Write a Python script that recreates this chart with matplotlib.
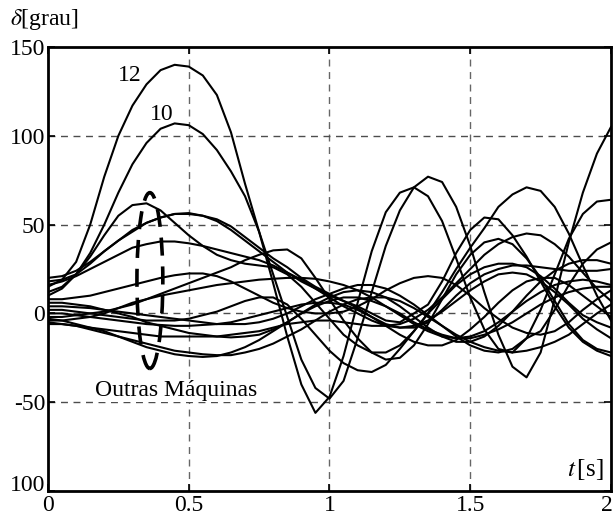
import numpy as np
import matplotlib
matplotlib.use("Agg")
import matplotlib.pyplot as plt
from matplotlib.patches import Ellipse
from matplotlib.transforms import ScaledTranslation

plt.rcParams['font.family'] = ['Liberation Serif', 'DejaVu Serif']
plt.rcParams['mathtext.fontset'] = 'stix'

# time samples every 0.05 s
t = np.arange(41) * 0.05

# machine angles [grau]
m12 = [15, 19, 29, 50, 77, 100, 117, 129, 137, 140, 139, 134, 123, 102, 73, 46, 17, -13, -40, -56,
       -47, -24, 6, 35, 57, 68, 71, 66, 52, 31, 9, -9, -20, -22, -14, 2, 22, 42, 56, 63, 64]
m10 = [12, 15, 22, 34, 50, 68, 84, 96, 104, 107, 106, 101, 92, 80, 66, 46, 22, -2, -26, -42,
       -48, -38, -14, 12, 38, 58, 71, 77, 74, 60, 38, 12, -12, -30, -36, -22, 8, 40, 68, 90, 105]
m_a = [10, 14, 22, 32, 44, 55, 61, 62, 58, 51, 44, 38, 33, 30, 28, 27, 26, 22, 15, 6,
       -3, -12, -18, -22, -22, -18, -10, 0, 8, 16, 22, 26, 28, 28, 26, 21, 14, 6, -1, -5, -8]
m_b = [18, 19, 22, 28, 35, 41, 47, 51, 54, 56, 56, 55, 52, 47, 41, 35, 29, 23, 18, 14,
       10, 7, 4, 0, -4, -5, 0, 5, 18, 34, 47, 54, 53, 44, 32, 18, 4, -8, -16, -21, -24]
m_c = [20, 21, 24, 29, 35, 41, 46, 51, 54, 56, 56.5, 55, 53, 49, 43, 37, 31, 26, 20, 15,
       11, 7, 3, -2, -6, -8, -8, -5, 2, 10, 17, 22, 25, 27, 27, 26, 25, 24, 24, 24, 25]
m_d = [16, 18, 21, 25, 29, 33, 37, 39, 40.5, 40.5, 39.5, 38, 36, 34, 32, 30, 27, 23, 19, 14,
       9, 4, 0, -4, -7, -8, -7, -4, 1, 7, 13, 18, 22, 23, 22, 18, 12, 5, -3, -9, -14]
m_e = [8, 8, 9, 10, 12, 14, 16, 18, 20, 21.5, 22.5, 22.5, 21, 18, 14, 10, 6, 3, 1, 0,
       0, 1, 4, 8, 13, 17, 20, 21, 20, 16, 10, 3, -3, -8, -11, -12, -10, -5, 2, 8, 13]
m_f = [-2, -2, -1, 0, 1, 3, 5, 8, 11, 14, 17, 20, 23, 26, 30, 33, 35.5, 36, 31, 20,
       8, -4, -14, -22, -26, -25, -18, -6, 8, 22, 33, 40, 42, 39, 31, 20, 7, -6, -15, -20, -22]
m_g = [6, 6, 5, 4, 2, 0, -2, -5, -7, -9, -11, -12, -13, -13.5, -13, -12, -9, -5, 0, 5,
       9, 12, 13, 12, 9, 4, -2, -8, -13, -16, -16, -13, -7, 1, 10, 18, 24, 28, 30, 30, 28]
m_h = [-3, -4, -6, -8, -10, -13, -16, -19, -21, -23, -24, -24.5, -24, -22, -19, -15, -10, -5, 0, 4,
       7, 9, 9, 7, 4, 0, -5, -9, -12, -14, -14, -12, -9, -5, 0, 5, 9, 12, 14, 15, 15]
m_i = [-5, -6, -7, -9, -11, -13, -15, -17, -19, -21, -22, -23, -23.5, -23.5, -22, -20, -17, -13, -9, -4,
       1, 5, 8, 9, 9, 7, 3, -2, -7, -12, -16, -19, -21, -22, -21, -19, -16, -12, -6, 0, 5]
m_j = [0, 0, -1, -2, -3, -4, -5, -6, -6.5, -7, -7, -6.5, -6, -5, -3, -1, 1, 3, 5, 6,
       6, 5, 2, -2, -7, -12, -16, -18, -18, -15, -9, -2, 6, 13, 18, 20, 20, 16, 10, 4, -2]
m_k = [-4, -4, -3, -2, 0, 3, 6, 8, 10, 11.5, 13, 14.5, 16, 17, 18, 19, 19.5, 20, 20, 19.5,
       18, 16, 13, 9, 4, -1, -6, -10, -13, -14, -13, -10, -5, 1, 7, 12, 16, 18, 19, 18, 16]
m_l = [2, 2, 1, 0, -1, -2, -3, -4, -4, -4, -3, -1, 1, 4, 7, 9, 9, 5, -3, -12,
       -21, -28, -32, -33, -29, -20, -10, 0, 12, 25, 37, 48, 60, 67, 71, 69, 60, 45, 27, 10, -4]
m_m = [-6, -6, -7, -8, -9, -10, -11, -12, -13, -13, -13, -13, -13, -12, -11, -10, -8, -6, -5, -4,
       -4, -5, -6, -7, -7, -6, -3, 2, 9, 17, 25, 33, 39, 43, 45, 44, 39, 32, 23, 14, 7]
m_n = [4, 4, 3.5, 3, 2, 1, 0, -1, -2, -3, -4, -5, -6, -6, -6, -5, -3, 0, 4, 8,
       11, 14, 16, 16, 14, 10, 5, -1, -7, -13, -18, -21, -22, -20, -14, -10, 2, 16, 28, 36, 40]

curves = [m12, m10, m_a, m_b, m_c, m_d, m_e, m_f, m_g, m_h, m_i, m_j, m_k, m_l, m_m, m_n]

xticks = [0, 0.5, 1, 1.5, 2]
xtick_labels = ['0', '0.5', '1', '1.5', '2']
yticks = [150, 100, 50, 0, -50, -100]
ytick_labels = ['150', '100', '50', '0', '-50', '100']

FS = 17

fig = plt.figure(figsize=(6.15, 5.17), dpi=100)
ax = fig.add_axes([0.078, 0.0503, 0.9155, 0.8587])

for c in curves:
    ax.plot(t, c, color='black', lw=1.5, solid_joinstyle='round')

ax.set_xlim(0, 2)
ax.set_ylim(-100, 150)
ax.set_xticks(xticks)
ax.set_xticklabels(xtick_labels)
ax.set_yticks(yticks)
ax.set_yticklabels(ytick_labels)
ax.tick_params(direction='in', length=5, width=1.2, labelsize=FS,
               top=True, right=True)
ax.tick_params(axis='y', pad=2)
ax.tick_params(axis='x', pad=3)
for s in ax.spines.values():
    s.set_linewidth(2)

# nudge the corner labels so they don't collide / get clipped
ylab = ax.get_yticklabels()[-1]
ylab.set_transform(ylab.get_transform() + ScaledTranslation(0, 6 / 72, fig.dpi_scale_trans))
xlab = ax.get_xticklabels()[-1]
xlab.set_transform(xlab.get_transform() + ScaledTranslation(-3 / 72, 0, fig.dpi_scale_trans))

for gx in [0.5, 1, 1.5]:
    ax.axvline(gx, color='0.4', lw=1, ls=(0, (5, 4)), zorder=0)
for gy in [100, 50, 0, -50]:
    ax.axhline(gy, color='0.3', lw=1, ls=(0, (5, 4)), zorder=0)

# dashed ellipse around the other machines
ell = Ellipse((0.362, 18.5), 0.092, 99, fill=False, ec='black', lw=2.6,
              ls=(0, (5, 3)), zorder=3)
ax.add_patch(ell)

ax.text(0.29, 134, '12', fontsize=FS, ha='center', va='center')
ax.text(0.405, 112, '10', fontsize=FS, ha='center', va='center')
ax.text(0.457, -43.5, 'Outras Máquinas', fontsize=FS, ha='center', va='center',
        bbox=dict(fc='white', ec='none', pad=0.5))
ax.text(1.975, -88, r'$t\,$[s]', fontsize=FS + 1, ha='right', va='center')
fig.text(0.016, 0.963, r'$\delta$[grau]', fontsize=FS, ha='left', va='center')

fig.savefig('out.png', dpi=100)
